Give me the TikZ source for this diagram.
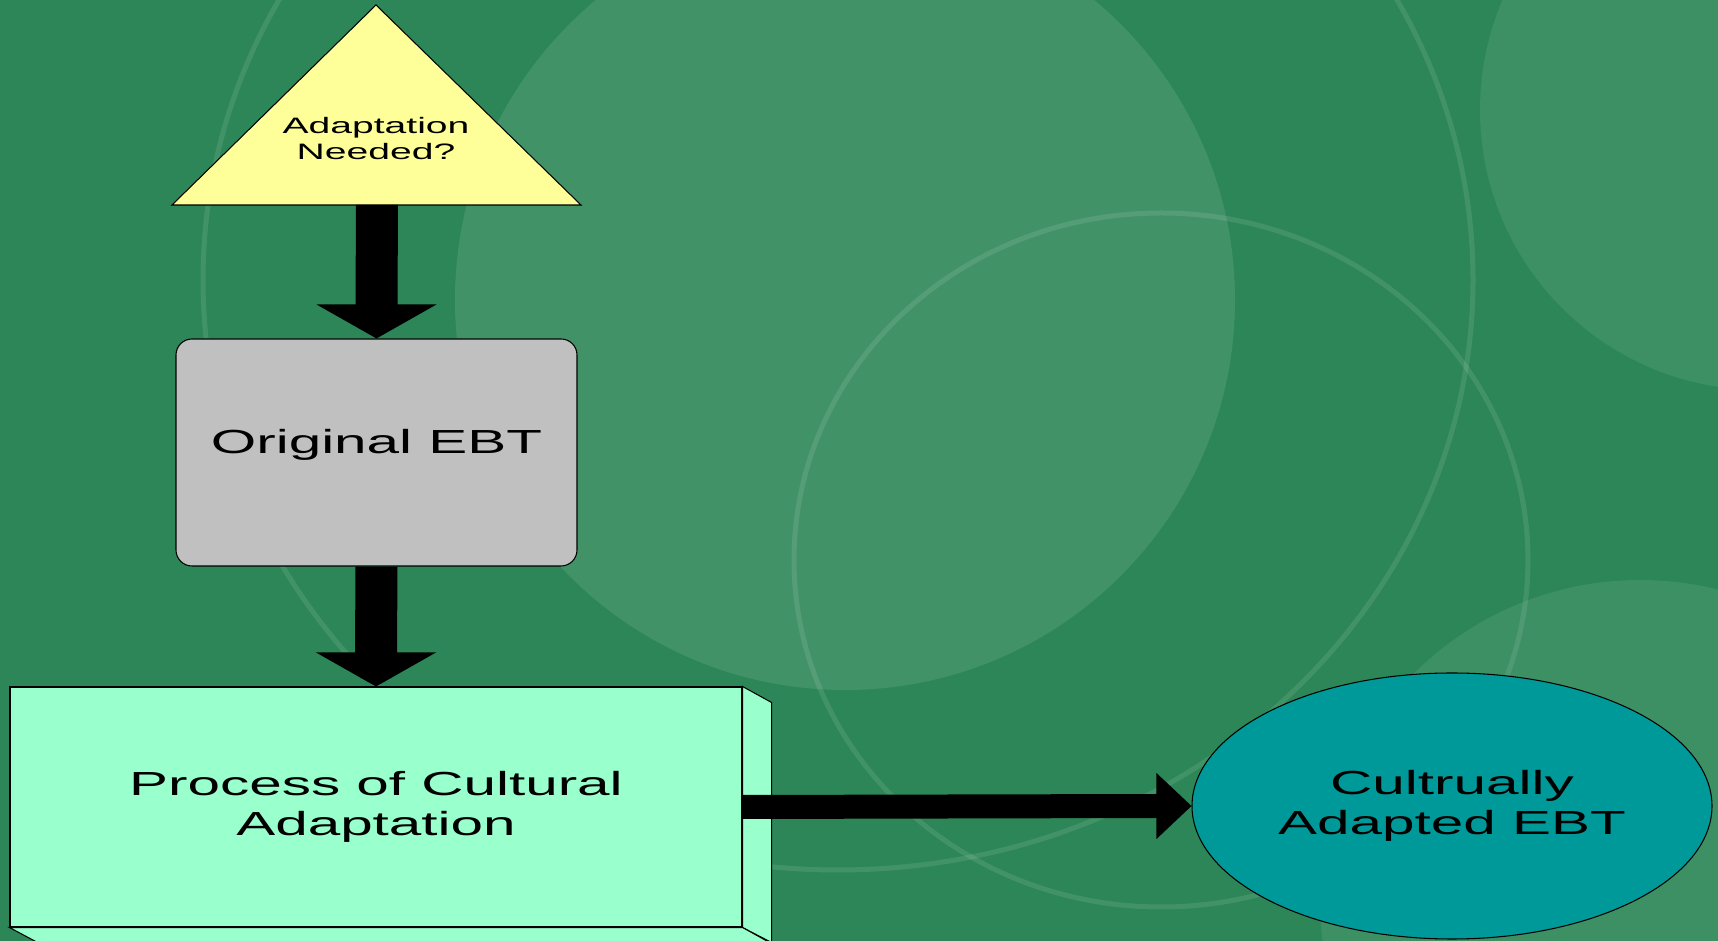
\documentclass[tikz,border=0pt]{standalone}
\usepackage{fontspec}
\newfontfamily\slidefont[FakeStretch=1.75]{Liberation Sans}
\usetikzlibrary{shapes.geometric,calc,positioning}

\definecolor{slidegreen}{RGB}{45,134,87}
\definecolor{paleyellow}{HTML}{FFFF99}
\definecolor{ebtgray}{HTML}{C0C0C0}
\definecolor{mint}{HTML}{99FFCC}
\definecolor{ebtteal}{HTML}{009999}

\tikzset{
  box/.style={draw=black,line width=0.3pt,inner sep=0pt,align=center,
    font=\slidefont\fontsize{9.5pt}{11.4pt}\selectfont},
  face/.style={fill=mint,draw=black,line width=0.3pt},
  ring/.style={white,opacity=0.1,line width=0.5mm},
  % fat block arrows, shaft + wide head
  vblock/.style={fill=black,draw=none,to path={
    ($(\tikztostart)+(-21,0)$) -- ($(\tikztotarget)+(-21,-34)$)
    -- ($(\tikztotarget)+(-60,-34)$) -- (\tikztotarget)
    -- ($(\tikztotarget)+(60,-34)$) -- ($(\tikztotarget)+(21,-34)$)
    -- ($(\tikztostart)+(21,0)$) -- cycle}},
  hblock/.style={fill=black,draw=none,to path={
    ($(\tikztostart)+(0,-12)$) -- ($(\tikztotarget)+(-35,-12)$)
    -- ($(\tikztotarget)+(-35,-33)$) -- (\tikztotarget)
    -- ($(\tikztotarget)+(-35,33)$) -- ($(\tikztotarget)+(-35,12)$)
    -- ($(\tikztostart)+(0,12)$) -- cycle}}
}

\begin{document}
\begin{tikzpicture}[x=0.1mm,y=-0.1mm]
  \useasboundingbox (0,0) rectangle (1718,941);

  % backdrop
  \fill[slidegreen] (0,0) rectangle (1718,941);
  \fill[white,opacity=0.1] (845,300) circle [radius=390];
  \fill[white,opacity=0.08] (1760,110) circle [radius=280];
  \fill[white,opacity=0.08] (1640,900) circle [radius=320];
  \draw[ring] (838,280) ellipse [x radius=635,y radius=590];
  \draw[ring] (1161,560) ellipse [x radius=367,y radius=347];

  % decision triangle
  \coordinate (apex) at (376,5);
  \coordinate (base) at (377,205);
  \filldraw[fill=paleyellow,draw=black,line width=0.3pt]
    (apex) -- ++(-204,200) -- ++(409,0) -- cycle;
  \node[inner sep=0pt,align=center,font=\slidefont\fontsize{6.35pt}{7.4pt}\selectfont]
    (need) at (376,139) {Adaptation\\Needed?};

  \node[box,rounded corners=1.6mm,fill=ebtgray,minimum width=40.1mm,
    text height=11.5mm,text depth=11.2mm] (orig) at (376.5,452.5) {Original EBT};

  \node[box,fill=mint,minimum width=73.2mm,minimum height=24mm]
    (proc) at (376,807) {Process of Cultural\\Adaptation};
  \filldraw[face] (proc.north east) -- ++(29,16) -- ++(0,240) -- (proc.south east) -- cycle;
  \filldraw[face] (proc.south west) -- (proc.south east) -- ++(29,16) -- ++(-732,0) -- cycle;

  \node[box,ellipse,fill=ebtteal,minimum width=52mm,minimum height=26.6mm]
    (ebt) at (1452,806) {Cultrually\\Adapted EBT};

  \path (base) edge[vblock] (orig.north)
        (orig.south) edge[vblock] (proc.north)
        (proc.east) edge[hblock] (ebt.west);
\end{tikzpicture}
\end{document}
